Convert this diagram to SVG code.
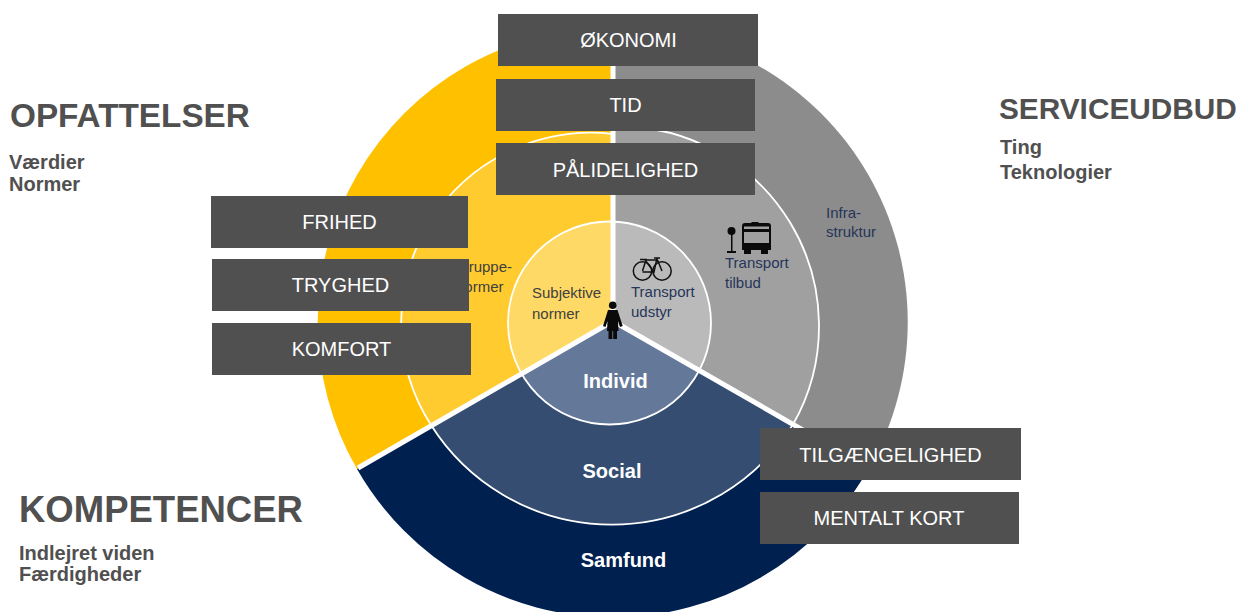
<svg xmlns="http://www.w3.org/2000/svg" width="1238" height="612" viewBox="0 0 1238 612">
<style>
text{font-family:"Liberation Sans",Arial,sans-serif}
.box{fill:#505050}
.bt{fill:#fff;font-size:20px;text-anchor:middle}
.h{fill:#505050;font-weight:700}
.s{fill:#505050;font-weight:700;font-size:20px}
.d{fill:#263559;font-size:15px}
.k{fill:#404040;font-size:15px}
.w{fill:#fff;font-weight:700;font-size:20px;text-anchor:middle}
.ring{fill:none;stroke:#fff;stroke-width:1.800}
.div{stroke:#fff;stroke-width:5;fill:none}
</style>
<g id="disc">
<path fill="#FFC000" d="M613 321V27.500A294.500 294.500 0 0 0 357 469Z"/>
<path fill="#8C8C8C" d="M613 321V27.500A294.500 294.500 0 0 1 869 468Z"/>
<path fill="#002050" d="M613 321L357 469A294.500 294.500 0 0 0 869 468Z"/>
<path fill="#FFCB2F" d="M613 321V134A190 190 0 0 0 431 425Z"/>
<path fill="#A0A0A0" d="M613 321V126.600A199.500 199.500 0 0 1 793 424.500Z"/>
<path fill="#344D70" d="M613 321L431 425A214 214 0 0 0 793 424.500Z"/>
<path fill="#FFD966" d="M613 321V221.600A101.500 101.500 0 0 0 521 373Z"/>
<path fill="#BABABA" d="M613 321V221.600A101.500 101.500 0 0 1 698 372Z"/>
<path fill="#64789A" d="M613 321L521 373A101.500 101.500 0 0 0 698 372Z"/>
<path class="ring" d="M613 134A190 190 0 0 0 431 425M613 126.600A199.500 199.500 0 0 1 793 424.500M431 425A214 214 0 0 0 793 424.500"/>
<circle class="ring" cx="609.500" cy="323" r="101.500"/>
</g>
<g id="connectors">
<path class="div" d="M613 27V321M613 321L358 468M613 321L869 468"/>
</g>
<g id="labels">
<text class="k" x="457" y="272">Gruppe-</text>
<text class="k" x="456" y="292">normer</text>
<text class="k" x="532" y="298">Subjektive</text>
<text class="k" x="532" y="319">normer</text>
<text class="d" x="631" y="297">Transport</text>
<text class="d" x="631" y="317">udstyr</text>
<text class="d" x="725" y="268">Transport</text>
<text class="d" x="725" y="288">tilbud</text>
<text class="d" x="826" y="218">Infra-</text>
<text class="d" x="826" y="237">struktur</text>
<text class="w" x="615.500" y="388">Individ</text>
<text class="w" x="612" y="478">Social</text>
<text class="w" x="623.500" y="567">Samfund</text>
<text class="h" x="10" y="127" style="font-size:33.300px">OPFATTELSER</text>
<text class="s" x="9" y="169">Værdier</text>
<text class="s" x="9" y="191">Normer</text>
<text class="h" x="999" y="119" style="font-size:29.800px">SERVICEUDBUD</text>
<text class="s" x="1000" y="154">Ting</text>
<text class="s" x="1000" y="179">Teknologier</text>
<text class="h" x="19" y="522" style="font-size:36.500px">KOMPETENCER</text>
<text class="s" x="19" y="560">Indlejret viden</text>
<text class="s" x="19" y="581">Færdigheder</text>
</g>
<g id="icon-person" fill="#0a0a0a">
<circle cx="612.700" cy="305.300" r="3.800"/>
<path d="M608 310H617.500L622.700 326L620 327L618 321L618.500 331H617V339H613.200V331H612.300V339H608.500V331H607L607.500 321L605.500 327L603 326Z"/>
</g>
<g id="icon-bike" fill="none" stroke="#111" stroke-width="1.500">
<circle cx="642.500" cy="271" r="9.200"/>
<circle cx="662" cy="271" r="9.200"/>
<path d="M642.500 271L646 260H657.500L662 271M645 260L654 272L657 258M654 272H642.500M640 259.500H647M654 258H660"/>
</g>
<g id="icon-bus" fill="#0a0a0a">
<circle cx="731.500" cy="231" r="4"/>
<rect x="731" y="233" width="1.500" height="19"/>
<rect x="727" y="251" width="9" height="2"/>
<path fill-rule="evenodd" d="M747 223H751L752 222H758L759 223H768A3 3 0 0 1 771 226V250H768V254H761V250H751V254H744V250H742V226A3 3 0 0 1 745 223ZM744 226.500V229H769V226.500ZM744 232V243H769V232Z"/>
</g>
<g id="box-okonomi"><rect class="box" x="498" y="14" width="260" height="52"/><text class="bt" x="628.500" y="47">ØKONOMI</text></g>
<g id="box-tid"><rect class="box" x="496" y="79" width="259" height="52"/><text class="bt" x="625.500" y="112">TID</text></g>
<g id="box-palidelighed"><rect class="box" x="496" y="143" width="259" height="52"/><text class="bt" x="625.500" y="177">PÅLIDELIGHED</text></g>
<g id="box-frihed"><rect class="box" x="211" y="196" width="257" height="52"/><text class="bt" x="339.500" y="229">FRIHED</text></g>
<g id="box-tryghed"><rect class="box" x="212" y="259" width="257" height="52"/><text class="bt" x="340.500" y="292">TRYGHED</text></g>
<g id="box-komfort"><rect class="box" x="212" y="323" width="259" height="52"/><text class="bt" x="341.500" y="356">KOMFORT</text></g>
<g id="box-tilgaengelighed"><rect class="box" x="760" y="428" width="261" height="52"/><text class="bt" x="890.500" y="462">TILGÆNGELIGHED</text></g>
<g id="box-mentalt-kort"><rect class="box" x="760" y="492" width="259" height="52"/><text class="bt" x="889" y="525">MENTALT KORT</text></g>
</svg>
